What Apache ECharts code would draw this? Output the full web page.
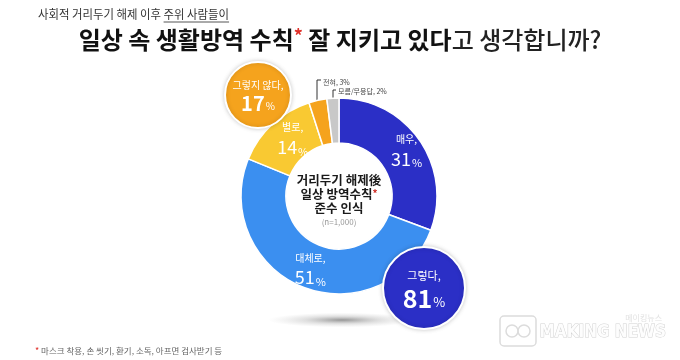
<!DOCTYPE html>
<html><head><meta charset="utf-8">
<script src="https://cdn.jsdelivr.net/npm/echarts@6/dist/echarts.min.js"></script>
<style>html,body{margin:0;padding:0;background:#fff}#c{width:680px;height:360px}</style>
</head><body><div id="c"></div>
<script>
// ---- data ----
const categories = ['매우', '대체로', '별로', '전혀', '모름/무응답'];
const values = [31, 51, 14, 3, 2];
const summaryLabels = ['그렇지 않다', '그렇다'];
const summaryValues = [17, 81];
const subtitlePlain = '사회적 거리두기 해제 이후 ';
const subtitleUnderlined = '주위 사람들이';
const centerLines = ['거리두기 해제後', '일상 방역수칙', '준수 인식'];
const sampleNote = '(n=1,000)';
const footnote = '마스크 착용, 손 씻기, 환기, 소독, 아프면 검사받기 등';

// ---- styles ----
const FONT = '"Noto Sans CJK KR", "Noto Sans", sans-serif';
const colors = ['#2b2fc6', '#3b8ff0', '#f9c932', '#f5a31d', '#c8c8c8'];
const bubbleColors = ['#f5a31d', '#2b2fc6'];

const data = categories.map((c, i) => {
  const small = values[i] < 5;
  return {
    name: c, value: values[i],
    itemStyle: { color: colors[i] },
    label: small ? {
      position: 'outside',
      formatter: '{s|{b}, {c}%}',
      rich: { s: { fontSize: 7, color: '#444', fontFamily: FONT } }
    } : {
      position: 'inside',
      color: '#fff',
      textBorderWidth: 0,
      formatter: '{n|{b},}\n{v|{c}}{p|%}',
      rich: {
        n: { fontSize: 10, color: '#fff', fontFamily: FONT, lineHeight: 17, align: 'center' },
        v: { fontSize: 18, color: '#fff', fontFamily: FONT, lineHeight: 22 },
        p: { fontSize: 11, color: '#fff', fontFamily: FONT, lineHeight: 22, verticalAlign: 'bottom', padding: [0, 0, 1, 1] }
      }
    },
    labelLine: { show: small, lineStyle: { color: '#333', width: 1 } }
  };
});

// text measurement for the subtitle underline
const mctx = document.createElement('canvas').getContext('2d');
function textW(str, font) { mctx.font = font; return mctx.measureText(str).width; }
const SUBFONT = '12px ' + FONT;
const SUBSCALE = 0.95;
const subX = 38;
const ulStart = subX + textW(subtitlePlain, SUBFONT) * SUBSCALE;
const ulEnd = ulStart + textW(subtitleUnderlined, SUBFONT) * SUBSCALE;

const chart = echarts.init(document.getElementById('c'), null, { renderer: 'canvas' });

function bubble(i, cx, cy, r, nameSize, valSize) {
  return {
    type: 'group', z: 100,
    children: [
      { type: 'circle', shape: { cx: cx, cy: cy, r: r },
        style: { fill: bubbleColors[i], stroke: '#fff', lineWidth: 2,
                 shadowBlur: 4, shadowColor: 'rgba(0,0,0,0.18)' }, z: 100 },
      { type: 'text', x: cx, y: cy - r * 0.3, z: 101,
        style: { text: summaryLabels[i] + ',', fill: '#fff', font: nameSize + 'px ' + FONT,
                 align: 'center', verticalAlign: 'middle' } },
      { type: 'text', x: cx, y: cy + r * 0.25, z: 101,
        style: { text: '{v|' + summaryValues[i] + '}{p|%}', align: 'center', verticalAlign: 'middle',
                 rich: { v: { fontSize: valSize, fontWeight: 'bold', fill: '#fff', fontFamily: FONT },
                         p: { fontSize: Math.round(valSize * 0.5), fill: '#fff', fontFamily: FONT, verticalAlign: 'bottom', padding: [0,0,2,1] } } } }
    ]
  };
}

chart.setOption({
  backgroundColor: '#fff',
  animation: false,
  series: [{
    type: 'pie',
    center: [339, 196],
    radius: [53, 98],
    startAngle: 90,
    clockwise: true,
    silent: true,
    itemStyle: { borderColor: '#fff', borderWidth: 1.5 },
    data: data,
    labelLayout: function (p) {
      if (p.dataIndex === 3) {
        return { x: 323, y: 82, align: 'left', verticalAlign: 'middle',
                 labelLinePoints: [[317, 100], [317, 80], [321, 80]] };
      }
      if (p.dataIndex === 4) {
        return { x: 338, y: 91, align: 'left', verticalAlign: 'middle',
                 labelLinePoints: [[333, 99], [333, 90], [336, 90]] };
      }
      if (p.dataIndex === 2) return { dx: 7, dy: 0 };
      if (p.dataIndex === 0) return { dx: 3, dy: -1 };
      return {};
    }
  }],
  graphic: [
    // shadow under donut
    { type: 'circle', shape: { cx: 0, cy: 0, r: 74 }, x: 342, y: 320, scaleY: 0.1, z: -1,
      style: { fill: { type: 'radial', x: 0.5, y: 0.5, r: 0.5,
        colorStops: [{ offset: 0, color: 'rgba(80,80,80,0.6)' }, { offset: 0.5, color: 'rgba(130,130,130,0.25)' }, { offset: 1, color: 'rgba(170,170,170,0)' }] } } },
    // subtitle
    { type: 'text', x: subX, y: 14, scaleX: SUBSCALE,
      style: { text: subtitlePlain + subtitleUnderlined, font: SUBFONT, fill: '#333', verticalAlign: 'middle' } },
    { type: 'line', shape: { x1: ulStart, y1: 22, x2: ulEnd, y2: 22 }, style: { stroke: '#555', lineWidth: 1 } },
    // title
    { type: 'text', x: 340, y: 40,
      style: { text: '{a|일상 속 생활방역 수칙}{r|*}{a| 잘 지키고 있다}{b|고 생각합니까?}',
               align: 'center', verticalAlign: 'middle',
               rich: {
                 a: { fontSize: 24, fontWeight: 'bold', fill: '#111', fontFamily: FONT },
                 r: { fontSize: 18, fontWeight: 'bold', fill: '#e0312a', fontFamily: FONT, verticalAlign: 'top', padding: [0,0,8,0] },
                 b: { fontSize: 24, fontWeight: 500, fill: '#222', fontFamily: FONT }
               } } },
    // centre text
    { type: 'text', x: 339, y: 180, style: { text: centerLines[0], font: 'bold 12.5px ' + FONT, fill: '#1a1a1a', align: 'center', verticalAlign: 'middle' } },
    { type: 'text', x: 339, y: 194, style: { text: centerLines[1] + '{r|*}', font: 'bold 12.5px ' + FONT, fill: '#1a1a1a', align: 'center', verticalAlign: 'middle',
        rich: { r: { fontSize: 10, fontWeight: 'bold', fill: '#d0312a', fontFamily: FONT, verticalAlign: 'top' } } } },
    { type: 'text', x: 339, y: 208, style: { text: centerLines[2], font: 'bold 12.5px ' + FONT, fill: '#1a1a1a', align: 'center', verticalAlign: 'middle' } },
    { type: 'text', x: 339, y: 222, style: { text: sampleNote, font: '8px ' + FONT, fill: '#999', align: 'center', verticalAlign: 'middle' } },
    // bubbles
    bubble(0, 258, 95, 33, 10, 20),
    bubble(1, 424, 288, 41, 11, 25),
    // footnote
    { type: 'text', x: 35, y: 351, style: { text: '{r|*} ' + footnote, font: '8.5px ' + FONT, fill: '#666', verticalAlign: 'middle',
        rich: { r: { fontSize: 9, fill: '#e0312a', fontFamily: FONT } } } },
    // watermark
    { type: 'text', x: 662, y: 318, style: { text: '메이킹뉴스', font: '8px ' + FONT, fill: '#e2e2e2', align: 'right', verticalAlign: 'middle' } },
    { type: 'text', x: 666, y: 333, style: { text: 'MAKING NEWS', font: 'bold 17px "DejaVu Sans Condensed", sans-serif', fill: '#fdfdfd', stroke: '#d3d3d3', lineWidth: 1, align: 'right', verticalAlign: 'middle' } },
    { type: 'rect', shape: { x: 500, y: 316, width: 36, height: 30, r: 4 }, style: { fill: 'none', stroke: '#dcdcdc', lineWidth: 1.5 } },
    { type: 'circle', shape: { cx: 512, cy: 331, r: 6 }, style: { fill: 'none', stroke: '#dcdcdc', lineWidth: 1.5 } },
    { type: 'circle', shape: { cx: 524, cy: 331, r: 6 }, style: { fill: 'none', stroke: '#dcdcdc', lineWidth: 1.5 } }
  ]
});
</script>
</body></html>
